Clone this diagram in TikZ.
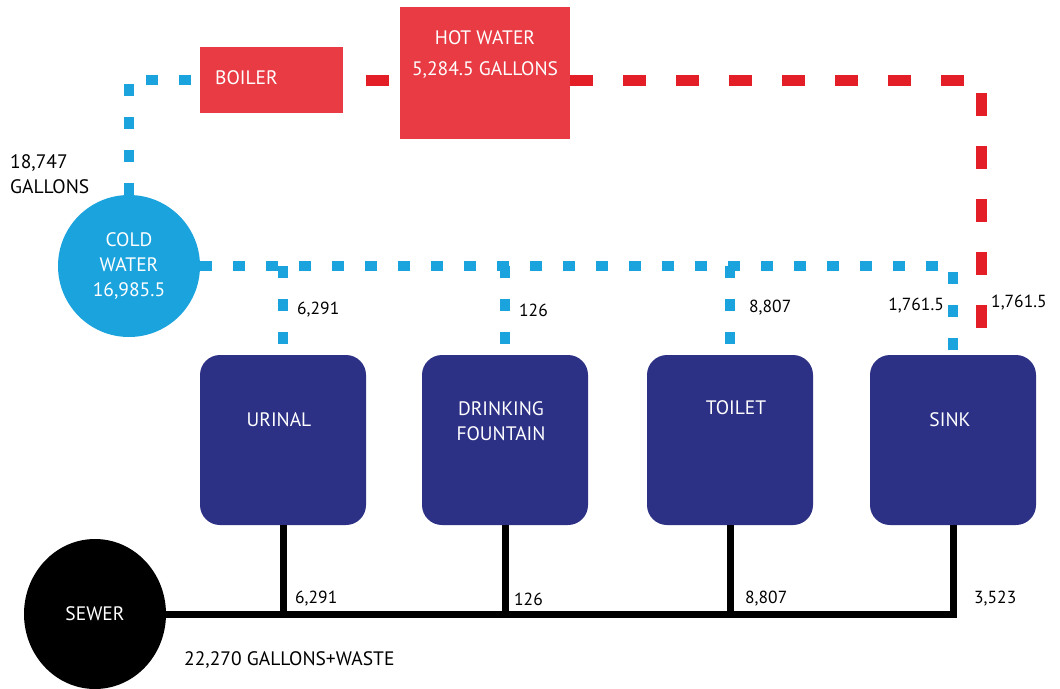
\documentclass[tikz,border=0pt]{standalone}
\usepackage{fontspec}
\setmainfont{PT Sans}
\usetikzlibrary{shapes.geometric}

\definecolor{pipered}{HTML}{E31E26}
\definecolor{boxred}{HTML}{E83B44}
\definecolor{coldblue}{HTML}{1BA3DD}
\definecolor{fixnavy}{HTML}{2D3186}

\begin{document}
\begin{tikzpicture}[x=1pt,y=-1pt,
    txt/.style={font=\fontsize{19.5}{25}\selectfont,inner sep=0pt,align=center},
    num/.style={txt,font=\fontsize{17.5}{25}\selectfont},
    wtxt/.style={txt,text=white},
    redbox/.style={fill=boxred,inner sep=0pt},
    fixture/.style={fill=fixnavy,rounded corners=20pt,minimum width=166pt,
      minimum height=170pt,inner sep=0pt},
    coldpipe/.style={coldblue,line width=10pt,dash pattern=on 12pt off 21pt},
    hotpipe/.style={pipered,line width=11pt,dash pattern=on 23pt off 30pt},
    drain/.style={black,line width=7pt}]

  \useasboundingbox (0,0) rectangle (1060,688);

  % tanks
  \node[redbox,minimum width=143pt,minimum height=66pt] (boiler) at (271,80) {};
  \node[wtxt,anchor=west] (boilerlbl) at (215,78) {BOILER};
  \node[redbox,minimum width=170pt,minimum height=132pt] (hotwater) at (485,73) {};
  \node[wtxt,font=\fontsize{19.5}{31}\selectfont] (hotlbl) at (485,55)
    {HOT WATER\\5,284.5 GALLONS};
  \node[wtxt,circle,fill=coldblue,minimum size=142pt] (cold) at (129,266)
    {COLD\\WATER\\16,985.5};

  % fixtures
  \node[fixture] (urinal) at (283,440) {};
  \node[fixture] (fountain) at (505,440) {};
  \node[fixture] (toilet) at (730,440) {};
  \node[fixture] (sink) at (953,440) {};
  \node[wtxt] (urinallbl) at (279,420) {URINAL};
  \node[wtxt] (fountainlbl) at (501,421) {DRINKING\\FOUNTAIN};
  \node[wtxt] (toiletlbl) at (736,408) {TOILET};
  \node[wtxt] (sinklbl) at (950,420) {SINK};

  % sewer
  \node[wtxt,ellipse,fill=black,minimum width=142pt,minimum height=150pt]
    (sewer) at (95,614) {SEWER};

  % cold water
  \draw[coldpipe] (cold.north) |- (boiler.west);
  \draw[coldpipe] (cold.east) -| (sink.north);
  \foreach \fx in {urinal,fountain,toilet}
    \draw[coldpipe] (\fx.north |- cold.east) -- (\fx.north);

  % hot water
  \coordinate (hotdrop) at ([xshift=28pt]sink.north);
  \draw[hotpipe,dash phase=30pt] (boiler.east) -- (hotwater.west |- boiler.east);
  \draw[hotpipe] (hotwater.east |- boiler.east) -| (hotdrop);

  % drains
  \draw[drain] (sewer.east) -- (sink.south |- sewer.east) -- (sink.south);
  \foreach \fx in {urinal,fountain,toilet}
    \draw[drain] (\fx.south) -- (\fx.south |- sewer.east);

  % flows
  \node[txt,align=left,anchor=west] (supply) at (10,174) {18,747\\GALLONS};
  \node[num,anchor=west] (urinalin) at (297,310) {6,291};
  \node[num,anchor=west] (fountainin) at (519,310) {126};
  \node[num,anchor=west] (toiletin) at (749,308) {8,807};
  \node[num,anchor=east] (sinkcold) at (944,306) {1,761.5};
  \node[num,anchor=west] (sinkhot) at (991,303) {1,761.5};
  \node[num,anchor=west] (urinalout) at (295,599) {6,291};
  \node[num,anchor=west] (fountainout) at (514,599) {126};
  \node[num,anchor=west] (toiletout) at (745,599) {8,807};
  \node[num,anchor=west] (sinkout) at (974,599) {3,523};
  \node[txt,anchor=west] (total) at (184,660) {22,270 GALLONS+WASTE};

\end{tikzpicture}
\end{document}
